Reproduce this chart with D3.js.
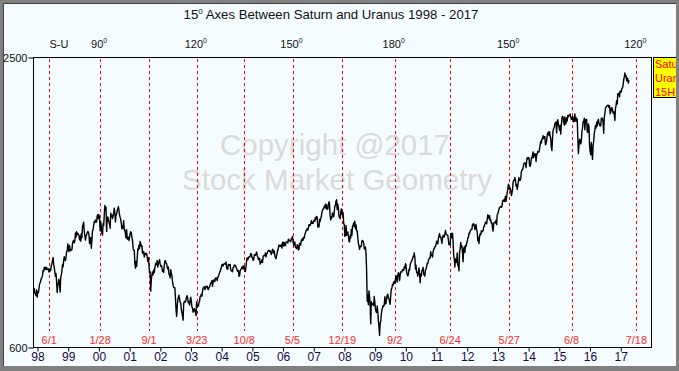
<!DOCTYPE html>
<html>
<head>
<meta charset="utf-8">
<script src="https://cdn.jsdelivr.net/npm/d3@7"></script>
<style>
  body { margin: 0; background: #fff; }
  svg { display: block; font-family: Arial, "Liberation Sans", sans-serif; }
</style>
</head>
<body>
<svg id="chart" width="679" height="371"></svg>
<script>
// S&P 500, weekly (Friday) values, one row per year
const blockStarts = ["1997-11-28", 1998, 1999, 2000, 2001, 2002, 2003, 2004, 2005, 2006, 2007,
  2008, 2009, 2010, 2011, 2012, 2013, 2014, 2015, 2016, 2017];
const weeklyCloses = [
  [955, 983, 954, 946, 936],
  [975, 927, 961, 957, 980, 1013, 1020, 1034, 1049, 1055, 1069, 1100, 1095, 1122, 1110, 1122, 1107, 1121, 1109, 1108, 1111, 1091, 1113, 1098, 1101, 1134, 1146, 1165, 1186, 1141, 1121, 1090, 1063, 1081, 1027, 957, 1010, 1020, 1044, 1002, 960, 1056, 1071, 1099, 1141, 1125, 1164, 1192, 1176, 1166, 1188, 1226],
  [1229, 1275, 1243, 1225, 1265, 1240, 1230, 1239, 1238, 1275, 1294, 1299, 1283, 1293, 1348, 1319, 1356, 1335, 1345, 1337, 1330, 1302, 1327, 1294, 1343, 1316, 1391, 1403, 1418, 1357, 1329, 1300, 1327, 1336, 1348, 1357, 1351, 1335, 1277, 1282, 1317, 1247, 1301, 1362, 1370, 1397, 1422, 1417, 1433, 1417, 1421, 1458, 1469],
  [1441, 1465, 1441, 1360, 1424, 1387, 1346, 1333, 1409, 1395, 1464, 1527, 1499, 1516, 1357, 1434, 1452, 1433, 1420, 1406, 1378, 1477, 1457, 1464, 1441, 1455, 1478, 1510, 1480, 1419, 1462, 1471, 1491, 1507, 1520, 1494, 1465, 1449, 1436, 1408, 1374, 1396, 1379, 1427, 1365, 1367, 1341, 1315, 1369, 1312, 1305, 1320],
  [1298, 1318, 1342, 1355, 1349, 1315, 1301, 1246, 1234, 1233, 1150, 1117, 1160, 1128, 1183, 1242, 1234, 1267, 1245, 1291, 1277, 1260, 1264, 1214, 1225, 1224, 1190, 1215, 1210, 1205, 1214, 1190, 1162, 1185, 1134, 1085, 1093, 966, 1041, 1071, 1092, 1073, 1104, 1087, 1120, 1139, 1150, 1139, 1167, 1123, 1144, 1161],
  [1172, 1146, 1128, 1133, 1122, 1096, 1104, 1089, 1131, 1164, 1166, 1149, 1147, 1122, 1111, 1125, 1076, 1073, 1054, 1106, 1083, 1067, 1028, 1007, 989, 990, 989, 921, 847, 800, 865, 908, 928, 940, 916, 893, 889, 846, 827, 800, 776, 884, 897, 900, 894, 909, 930, 936, 912, 889, 895, 875],
  [908, 927, 901, 861, 856, 829, 834, 851, 841, 829, 805, 895, 863, 878, 868, 893, 898, 930, 933, 946, 933, 964, 987, 988, 995, 976, 985, 998, 993, 998, 980, 977, 990, 993, 1008, 1021, 1018, 1036, 997, 1029, 1039, 1039, 1028, 1051, 1053, 1050, 1035, 1058, 1061, 1074, 1088, 1095],
  [1108, 1122, 1139, 1141, 1131, 1142, 1146, 1144, 1145, 1157, 1120, 1110, 1109, 1141, 1139, 1135, 1141, 1107, 1099, 1096, 1093, 1121, 1122, 1137, 1135, 1134, 1125, 1112, 1101, 1096, 1102, 1064, 1065, 1099, 1107, 1114, 1123, 1128, 1110, 1131, 1122, 1108, 1095, 1130, 1167, 1185, 1171, 1182, 1191, 1189, 1194, 1211, 1212],
  [1186, 1185, 1168, 1171, 1204, 1206, 1201, 1211, 1222, 1200, 1190, 1172, 1173, 1182, 1143, 1152, 1157, 1172, 1154, 1190, 1199, 1197, 1201, 1217, 1191, 1211, 1212, 1228, 1229, 1234, 1226, 1231, 1220, 1205, 1218, 1241, 1237, 1215, 1229, 1195, 1186, 1179, 1199, 1220, 1234, 1248, 1268, 1265, 1259, 1267, 1268, 1248],
  [1285, 1287, 1261, 1283, 1264, 1267, 1289, 1289, 1287, 1282, 1307, 1302, 1295, 1295, 1289, 1311, 1311, 1325, 1291, 1267, 1280, 1288, 1253, 1252, 1245, 1270, 1265, 1236, 1240, 1278, 1280, 1267, 1302, 1295, 1311, 1299, 1319, 1314, 1336, 1349, 1362, 1368, 1377, 1364, 1380, 1401, 1400, 1396, 1409, 1427, 1410, 1418],
  [1409, 1430, 1431, 1423, 1449, 1438, 1456, 1451, 1387, 1402, 1386, 1437, 1421, 1443, 1453, 1484, 1495, 1505, 1505, 1522, 1515, 1536, 1507, 1533, 1502, 1503, 1530, 1552, 1534, 1459, 1433, 1453, 1445, 1479, 1474, 1454, 1484, 1525, 1527, 1557, 1565, 1501, 1535, 1510, 1453, 1459, 1440, 1481, 1505, 1468, 1484, 1478],
  [1411, 1401, 1325, 1330, 1396, 1331, 1349, 1353, 1331, 1294, 1288, 1330, 1316, 1370, 1332, 1390, 1397, 1413, 1389, 1425, 1375, 1400, 1361, 1360, 1318, 1278, 1262, 1240, 1260, 1257, 1260, 1296, 1298, 1292, 1283, 1242, 1252, 1255, 1213, 1099, 899, 940, 877, 968, 930, 873, 752, 896, 876, 879, 887, 872],
  [931, 890, 850, 832, 826, 869, 827, 770, 735, 676, 757, 769, 816, 843, 857, 870, 866, 878, 929, 883, 887, 919, 940, 946, 921, 918, 896, 880, 941, 979, 987, 1010, 1005, 1026, 1029, 1016, 1042, 1068, 1044, 1025, 1071, 1087, 1080, 1036, 1069, 1093, 1091, 1091, 1106, 1106, 1102, 1126],
  [1115, 1145, 1136, 1091, 1074, 1066, 1075, 1109, 1104, 1139, 1150, 1160, 1167, 1179, 1194, 1192, 1217, 1187, 1111, 1136, 1088, 1089, 1065, 1092, 1118, 1076, 1022, 1078, 1065, 1103, 1102, 1122, 1079, 1071, 1065, 1105, 1110, 1126, 1149, 1146, 1166, 1176, 1183, 1183, 1225, 1200, 1199, 1189, 1225, 1240, 1244, 1257, 1258],
  [1271, 1293, 1283, 1276, 1310, 1329, 1343, 1320, 1321, 1304, 1279, 1314, 1332, 1328, 1320, 1338, 1364, 1340, 1338, 1333, 1331, 1300, 1271, 1271, 1268, 1340, 1344, 1316, 1345, 1292, 1199, 1179, 1124, 1177, 1174, 1154, 1216, 1136, 1131, 1099, 1224, 1238, 1285, 1253, 1263, 1216, 1159, 1244, 1255, 1219, 1265, 1258],
  [1278, 1289, 1315, 1316, 1345, 1343, 1361, 1366, 1370, 1371, 1404, 1397, 1408, 1398, 1370, 1378, 1403, 1369, 1353, 1295, 1318, 1278, 1325, 1343, 1335, 1362, 1354, 1357, 1363, 1386, 1391, 1405, 1418, 1411, 1407, 1438, 1466, 1460, 1441, 1461, 1429, 1433, 1411, 1414, 1380, 1360, 1409, 1416, 1418, 1413, 1430, 1402],
  [1466, 1472, 1486, 1503, 1513, 1518, 1520, 1516, 1518, 1551, 1561, 1556, 1569, 1553, 1588, 1555, 1582, 1614, 1633, 1667, 1650, 1631, 1643, 1626, 1593, 1606, 1632, 1680, 1692, 1692, 1710, 1691, 1655, 1664, 1633, 1655, 1688, 1710, 1692, 1691, 1703, 1745, 1760, 1762, 1771, 1798, 1805, 1806, 1805, 1775, 1818, 1841],
  [1832, 1842, 1839, 1790, 1783, 1797, 1838, 1836, 1859, 1878, 1841, 1866, 1857, 1865, 1815, 1864, 1863, 1881, 1878, 1878, 1900, 1924, 1949, 1936, 1963, 1961, 1985, 1968, 1978, 1978, 1925, 1931, 1955, 1988, 2003, 2008, 1985, 2011, 1982, 1968, 1906, 1887, 1965, 2018, 2032, 2040, 2064, 2068, 2075, 2003, 2071, 2089],
  [2058, 2045, 2019, 2051, 1995, 2055, 2097, 2110, 2105, 2071, 2053, 2108, 2061, 2067, 2102, 2081, 2117, 2108, 2116, 2123, 2126, 2107, 2092, 2094, 2110, 2101, 2077, 2077, 2127, 2080, 2104, 2078, 2092, 1971, 1867, 1921, 1961, 1958, 1931, 1951, 2014, 2033, 2075, 2079, 2099, 2023, 2089, 2090, 2092, 2012, 2006, 2061],
  [2044, 1922, 1880, 1859, 1940, 1880, 1829, 1918, 1948, 1999, 2022, 2050, 2035, 2073, 2048, 2081, 2092, 2065, 2057, 2047, 2052, 2099, 2099, 2096, 2071, 2000, 2103, 2130, 2162, 2175, 2174, 2183, 2184, 2184, 2169, 2180, 2128, 2139, 2165, 2168, 2153, 2133, 2141, 2126, 2085, 2164, 2182, 2213, 2192, 2260, 2258, 2264, 2239],
  [2277, 2275, 2271, 2295, 2297, 2316, 2351, 2367, 2395, 2373, 2378, 2344, 2363, 2355, 2329, 2349]
];

// Saturn-Uranus 15 degree aspect dates
const cycleDates = ["1998-06-01", "2000-01-28", "2001-09-01", "2003-03-23", "2004-10-08", "2006-05-05",
  "2007-12-19", "2009-09-02", "2011-06-24", "2013-05-27", "2015-06-08", "2017-07-18"];
const cycleLabels = ["6/1", "1/28", "9/1", "3/23", "10/8", "5/5", "12/19", "9/2", "6/24", "5/27", "6/8", "7/18"];
const angleLabels = ["", "90", "", "120", "", "150", "", "180", "", "150", "", "120"];
const yearTicks = d3.range(1998, 2018);
const priceTicks = [600, 2500];
const legendLines = ["Saturn", "Uranus", "15H"];

const W = 679, H = 371;
const plot = {left: 33, top: 57, right: 651, bottom: 347};
const parse = d3.timeParse("%Y-%m-%d");

var svg = d3.select("#chart");

// build series: each value sits on a Friday
var series = [];
blockStarts.forEach(function(b, k) {
  var start = typeof b === "string" ? parse(b) : d3.timeFriday.ceil(new Date(b, 0, 1));
  weeklyCloses[k].forEach(function(v, i) {
    series.push({date: d3.timeDay.offset(start, 7 * i), value: v});
  });
});

var x = d3.scaleTime()
  .domain([new Date(1997, 10, 20), new Date(2018, 0, 8)])
  .range([plot.left, plot.right]);
var y = d3.scaleLinear()
  .domain([600, 2500])
  .range([plot.bottom, plot.top]);

// background
svg.append("rect").attr("width", W).attr("height", H).attr("fill", "#f5fcff");

// title
var title = svg.append("text")
  .attr("x", 331).attr("y", 19)
  .attr("text-anchor", "middle")
  .attr("font-size", 13.2)
  .attr("fill", "#111");
title.append("tspan").text("15");
title.append("tspan").attr("dy", -5).attr("font-size", 8).text("0");
title.append("tspan").attr("dy", 5).text(" Axes Between Saturn and Uranus 1998 - 2017");

// watermark
svg.append("text").attr("x", 335).attr("y", 155)
  .attr("text-anchor", "middle").attr("font-size", 29.5).attr("fill", "#dadada")
  .text("Copyright @2017");
svg.append("text").attr("x", 337).attr("y", 190)
  .attr("text-anchor", "middle").attr("font-size", 29.5).attr("fill", "#dadada")
  .text("Stock Market Geometry");

// cycle lines
var cycles = cycleDates.map(function(d, i) {
  return {date: parse(d), label: cycleLabels[i], angle: angleLabels[i]};
});

svg.append("g").selectAll("line")
  .data(cycles).join("line")
  .attr("x1", function(d) { return Math.round(x(d.date)) + 0.5; })
  .attr("x2", function(d) { return Math.round(x(d.date)) + 0.5; })
  .attr("y1", plot.top + 2).attr("y2", plot.bottom - 16)
  .attr("stroke", "#ff0000").attr("stroke-width", 1)
  .attr("stroke-dasharray", "3,3");

svg.append("g").selectAll("text")
  .data(cycles).join("text")
  .attr("x", function(d) { return x(d.date); })
  .attr("y", plot.bottom - 3)
  .attr("text-anchor", "middle")
  .attr("font-size", 11)
  .attr("fill", "#ff2a2a")
  .text(function(d) { return d.label; });

// angle labels above the plot
var ang = svg.append("g").selectAll("text")
  .data(cycles.filter(function(d) { return d.angle; })).join("text")
  .attr("x", function(d) { return x(d.date) - 1; })
  .attr("y", 48)
  .attr("text-anchor", "middle")
  .attr("font-size", 11)
  .attr("fill", "#111");
ang.append("tspan").text(function(d) { return d.angle; });
ang.append("tspan").attr("dy", -5).attr("font-size", 7).text("0");

svg.append("text").attr("x", plot.left + 26).attr("y", 48)
  .attr("text-anchor", "middle").attr("font-size", 11).attr("fill", "#111")
  .text("S-U");

// price line
svg.append("clipPath").attr("id", "plotclip")
  .append("rect")
  .attr("x", plot.left).attr("y", plot.top)
  .attr("width", plot.right - plot.left).attr("height", plot.bottom - plot.top);

var line = d3.line()
  .x(function(d) { return x(d.date); })
  .y(function(d) { return y(d.value); });

svg.append("path")
  .datum(series)
  .attr("clip-path", "url(#plotclip)")
  .attr("d", line)
  .attr("fill", "none")
  .attr("stroke", "#000")
  .attr("stroke-width", 1.4)
  .attr("stroke-linejoin", "round");

// plot frame
svg.append("rect")
  .attr("x", plot.left + 0.5).attr("y", plot.top + 0.5)
  .attr("width", plot.right - plot.left).attr("height", plot.bottom - plot.top)
  .attr("fill", "none").attr("stroke", "#000");

// axes
var xAxis = d3.axisBottom(x)
  .tickValues(yearTicks.map(function(yr) { return new Date(yr, 0, 1); }))
  .tickFormat(d3.timeFormat("%y"))
  .tickSize(4).tickPadding(1);
var gx = svg.append("g")
  .attr("transform", "translate(1," + (plot.bottom + 0.5) + ")")
  .call(xAxis);
gx.select(".domain").remove();
gx.selectAll("text").attr("font-size", 12).attr("font-family", "Arial, 'Liberation Sans', sans-serif").attr("fill", "#1a0a40");

var yAxis = d3.axisLeft(y)
  .tickValues(priceTicks)
  .tickFormat(d3.format("d"))
  .tickSize(5).tickPadding(1);
var gy = svg.append("g")
  .attr("transform", "translate(" + (plot.left + 0.5) + ",0.5)")
  .call(yAxis);
gy.select(".domain").remove();
gy.selectAll("text").attr("font-size", 11).attr("font-family", "Arial, 'Liberation Sans', sans-serif").attr("fill", "#111");

// legend box, cut by the window border as in the source chart
var legend = svg.append("g");
legend.append("rect")
  .attr("x", 653.5).attr("y", 57.5).attr("width", 40).attr("height", 40)
  .attr("fill", "#ffff00").attr("stroke", "#000");
legend.selectAll("text")
  .data(legendLines).join("text")
  .attr("x", 655)
  .attr("y", function(d, i) { return 68 + i * 14; })
  .attr("font-size", 11)
  .attr("fill", "#ff0000")
  .text(function(d) { return d; });

// window border
svg.append("path")
  .attr("d", "M0,0H" + W + "V" + H + "H0Z M3,3V366H676V3Z")
  .attr("fill", "#808080").attr("fill-rule", "evenodd");
svg.append("path")
  .attr("d", "M3.5,366V3.5H676")
  .attr("fill", "none").attr("stroke", "#404040");
</script>
</body>
</html>
